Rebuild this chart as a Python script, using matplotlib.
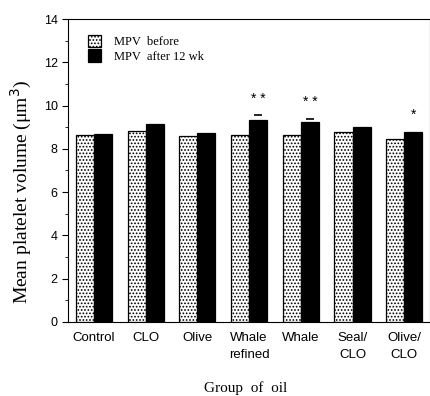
import numpy as np
import matplotlib.pyplot as plt
from matplotlib.ticker import MultipleLocator

groups = ["Control", "CLO", "Olive", "Whale\nrefined", "Whale", "Seal/\nCLO", "Olive/\nCLO"]
mpv_before = [8.63, 8.82, 8.58, 8.65, 8.65, 8.80, 8.45]
mpv_after = [8.70, 9.13, 8.72, 9.35, 9.22, 9.03, 8.79]
err_after = [0, 0, 0, 0.2, 0.18, 0, 0]
signif = ["", "", "", "* *", "* *", "", "*"]

serif = ["Liberation Serif", "DejaVu Serif"]
sans = ["Liberation Sans", "DejaVu Sans"]

plt.rcParams['hatch.linewidth'] = 0.8

fig = plt.figure(figsize=(4.31, 3.96), dpi=100)
ax = fig.add_axes([0.158, 0.187, 0.84, 0.765])

x = np.arange(len(groups))
w = 0.35
ax.bar(x - w / 2, mpv_before, w, color="white", edgecolor="black",
       hatch=".....", linewidth=0.9, label="MPV  before")
ax.bar(x + w / 2, mpv_after, w, color="black", edgecolor="black",
       linewidth=0.9, label="MPV  after 12 wk")

for i in range(len(groups)):
    top = mpv_after[i] + err_after[i]
    if err_after[i] > 0:
        ax.hlines(top, x[i] + w / 2 - w * 0.22, x[i] + w / 2 + w * 0.22,
                  color="black", linewidth=1.2)
    if signif[i]:
        ax.text(x[i] + w / 2, top + 0.45, signif[i], ha="center", va="bottom",
                fontsize=10, family=sans)

ax.set_xlim(-0.5, 6.5)
ax.set_ylim(0, 14)
ax.yaxis.set_major_locator(MultipleLocator(2))
ax.yaxis.set_minor_locator(MultipleLocator(1))
ax.set_xticks(x)
ax.set_xticklabels(groups, family=sans, fontsize=9.5, linespacing=1.6, va="top")
ax.tick_params(axis="x", length=0, pad=7)
ax.tick_params(axis="y", which="major", length=4, direction="out", labelsize=9)
ax.tick_params(axis="y", which="minor", length=2, direction="out")
for lab in ax.get_yticklabels():
    lab.set_family(sans)

ax.set_ylabel("Mean platelet volume (μm$^3$)", family=serif, fontsize=14)
ax.yaxis.set_label_coords(-0.095, 0.43)
ax.set_xlabel("Group  of  oil", family=serif, fontsize=11)
ax.xaxis.set_label_coords(0.49, -0.195)

ax.legend(loc="upper left", frameon=False, prop={"family": serif, "size": 9},
          handlelength=1.1, handleheight=1.2, handletextpad=1.0,
          borderaxespad=0, bbox_to_anchor=(0.04, 0.965), labelspacing=0.1)

fig.savefig("out.png", dpi=100)
